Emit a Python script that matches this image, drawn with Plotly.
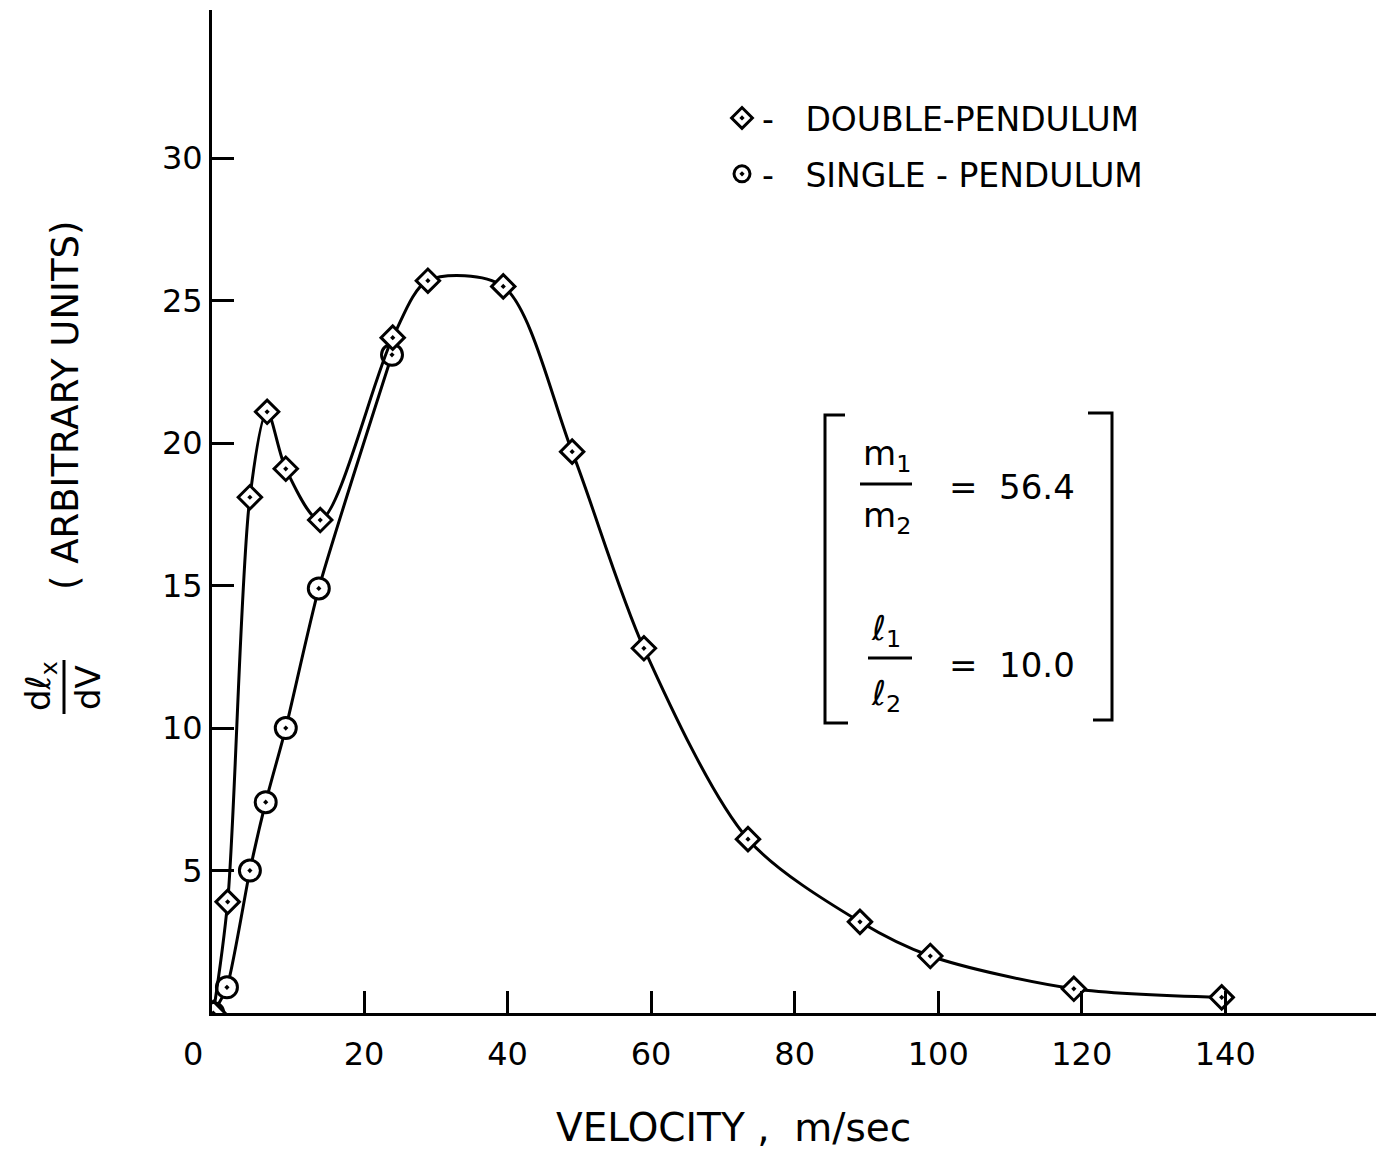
import plotly.graph_objects as go

# values
velocity_double = [-1.0, 1.0, 4.1, 6.5, 9.1, 13.9, 24.0, 28.9, 39.4, 49.0, 59.0, 73.5, 89.1, 98.9, 118.9, 139.5]
dldv_double = [0.0, 3.9, 18.1, 21.1, 19.1, 17.3, 23.7, 25.7, 25.5, 19.7, 12.8, 6.1, 3.2, 2.0, 0.85, 0.55]

velocity_single = [-1.0, 0.9, 4.1, 6.3, 9.1, 13.7, 23.9]
dldv_single = [0.0, 0.9, 5.0, 7.4, 10.0, 14.9, 23.1]

x_ticks = [20, 40, 60, 80, 100, 120, 140]
y_ticks = [5, 10, 15, 20, 25, 30]

FONT = "DejaVu Sans"
# page is drawn with an 8px body margin
W, H = 1378, 1144
L, R, T, B = 204, 10, 2, 139
PL, PR, PT, PB = 212, 1376, 10, 1013  # plot area in page pixels


def px(x):
    return (x - PL) / (PR - PL)


def py(y):
    return (PB - y) / (PB - PT)


fig = go.Figure()

# single pendulum first, so the diamonds sit on top
fig.add_trace(go.Scatter(
    x=velocity_single, y=dldv_single, mode="lines+markers",
    line=dict(color="black", width=3, shape="spline", smoothing=0.6),
    marker=dict(symbol="circle-dot", size=21, color="white",
                line=dict(color="black", width=3)),
    showlegend=False,
))
fig.add_trace(go.Scatter(
    x=velocity_double, y=dldv_double, mode="lines+markers",
    line=dict(color="black", width=3, shape="spline", smoothing=0.85),
    marker=dict(symbol="diamond-dot", size=18, color="white",
                line=dict(color="black", width=3)),
    showlegend=False,
))

# legend-only entries
fig.add_trace(go.Scatter(
    x=[None], y=[None], mode="markers", name="-   DOUBLE-PENDULUM", legendgroup="d",
    marker=dict(symbol="diamond-dot", size=16, color="white", line=dict(color="black", width=3)),
))
fig.add_trace(go.Scatter(
    x=[None], y=[None], mode="markers", name="-   SINGLE - PENDULUM", legendgroup="s",
    marker=dict(symbol="circle-dot", size=16, color="white", line=dict(color="black", width=3)),
))

annotations = []


def note(text, x, y, size=32, angle=0):
    annotations.append(dict(
        text=text, x=px(x), y=py(y), xref="paper", yref="paper",
        xanchor="center", yanchor="middle", showarrow=False, textangle=angle,
        font=dict(family=FONT, size=size, color="black"),
    ))


# axis labels
note("( ARBITRARY UNITS)", 65, 405, size=37, angle=-90)
note("dℓ<sub>x</sub>", 40, 686, size=34, angle=-90)
note("dV", 88, 688, size=34, angle=-90)
note("VELOCITY ,  m/sec", 733, 1127, size=39)
note("0", 193, 1054)

# parameter box
note("m<sub>1</sub>", 887, 455, size=34)
note("m<sub>2</sub>", 887, 517, size=34)
note("=  56.4", 1012, 487, size=34)
note("ℓ<sub>1</sub>", 886, 630, size=34)
note("ℓ<sub>2</sub>", 886, 695, size=34)
note("=  10.0", 1012, 665, size=34)

line_style = dict(color="black", width=3)
shapes = [
    dict(type="line", xref="paper", yref="paper", x0=px(64), x1=px(64), y0=py(660), y1=py(714), line=line_style),
    dict(type="line", xref="paper", yref="paper", x0=px(860), x1=px(912), y0=py(484), y1=py(484), line=line_style),
    dict(type="line", xref="paper", yref="paper", x0=px(868), x1=px(912), y0=py(658), y1=py(658), line=line_style),
    dict(type="path", xref="paper", yref="paper",
         path=f"M{px(845)},{py(415)} L{px(825)},{py(415)} L{px(825)},{py(723)} L{px(848)},{py(723)}",
         line=line_style),
    dict(type="path", xref="paper", yref="paper",
         path=f"M{px(1088)},{py(413)} L{px(1112)},{py(413)} L{px(1112)},{py(720)} L{px(1093)},{py(720)}",
         line=line_style),
]

fig.update_layout(
    width=W, height=H,
    margin=dict(l=L, r=R, t=T, b=B),
    paper_bgcolor="white", plot_bgcolor="white",
    font=dict(family=FONT, size=32, color="black"),
    annotations=annotations,
    shapes=shapes,
    legend=dict(
        x=px(722), y=py(90), xanchor="left", yanchor="top",
        bgcolor="rgba(0,0,0,0)", traceorder="grouped", tracegroupgap=10,
        font=dict(family=FONT, size=33, color="black"),
    ),
)

fig.update_xaxes(
    range=[-1.18, 161.0], tickvals=x_ticks, ticktext=[str(v) for v in x_ticks],
    showline=True, linecolor="black", linewidth=3, showgrid=False, zeroline=False,
    ticks="inside", ticklen=22, tickwidth=3, tickcolor="black", ticklabelstandoff=11,
)
fig.update_yaxes(
    range=[0, 35.2], tickvals=y_ticks, ticktext=[str(v) for v in y_ticks],
    showline=True, linecolor="black", linewidth=3, showgrid=False, zeroline=False,
    ticks="inside", ticklen=22, tickwidth=3, tickcolor="black", ticklabelstandoff=0,
)

fig.write_html("out.html")
